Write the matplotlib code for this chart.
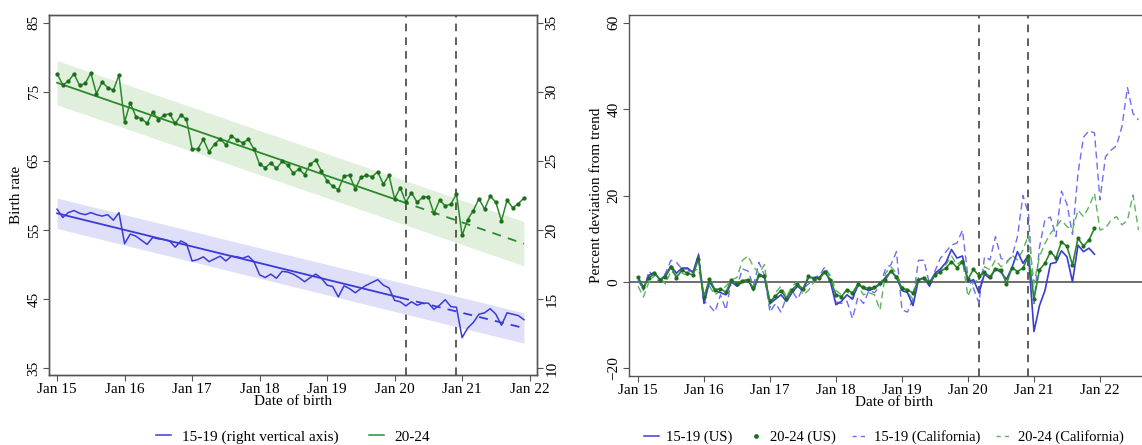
import matplotlib
matplotlib.use("Agg")
import matplotlib.pyplot as plt
import numpy as np

plt.rcParams['font.family'] = ['Liberation Serif', 'DejaVu Serif']
plt.rcParams['font.size'] = 11

# monthly series, Jan 2015 - Dec 2021 (84 months)
start_year = 2015
n_months = 84

# birth rate 20-24 (left axis)
rate_20_24 = [77.6, 76.0, 76.5, 77.6, 75.9, 76.2, 77.7, 74.7, 76.4, 75.6, 75.2, 77.4,
              70.6, 73.4, 71.4, 71.1, 70.4, 72.1, 70.9, 71.6, 71.8, 70.4, 71.6, 71.0,
              66.7, 66.7, 68.1, 66.3, 67.4, 68.2, 67.3, 68.6, 68.0, 67.6, 68.1, 66.7,
              64.5, 64.0, 64.7, 63.9, 64.9, 64.4, 63.2, 63.8, 63.0, 64.5, 65.1, 63.5,
              62.1, 61.3, 60.8, 62.8, 62.9, 60.9, 62.6, 62.9, 62.7, 63.4, 61.6, 62.9,
              59.5, 61.1, 59.0, 60.4, 59.0, 59.7, 59.8, 57.4, 59.3, 58.5, 58.7, 60.2,
              54.2, 56.5, 57.8, 59.5, 58.0, 59.9, 59.0, 56.3, 59.3, 58.2, 58.8, 59.6]

# birth rate 15-19 (right axis)
rate_15_19 = [21.5, 20.9, 21.25, 21.4, 21.2, 21.1, 21.25, 21.1, 21.0, 21.1, 20.7, 21.25,
              19.0, 19.7, 19.55, 19.25, 18.95, 19.45, 19.35, 19.3, 19.2, 18.75, 19.2, 19.0,
              17.75, 17.85, 18.05, 17.7, 17.9, 18.1, 17.75, 18.1, 18.05, 17.95, 18.1, 17.7,
              16.75, 16.55, 16.8, 16.5, 17.0, 16.95, 16.8, 16.55, 16.25, 16.55, 16.8, 16.5,
              16.0, 15.9, 15.15, 15.95, 15.75, 15.45, 15.75, 16.0, 16.2, 16.4, 16.0, 15.8,
              14.9, 14.8, 14.5, 14.8, 14.55, 14.7, 14.7, 14.25, 14.55, 14.95, 14.45, 14.4,
              12.2, 12.9, 13.3, 13.9, 14.0, 14.3, 13.9, 13.1, 14.0, 13.9, 13.8, 13.5]

# linear trends (start, end) and band half widths
trend_20_24 = (76.3, 53.0)
band_20_24 = 3.2
trend_15_19 = (21.2, 12.9)
band_15_19 = 1.1
fit_end_month = 61  # Feb 2020, solid until here

# percent deviation from trend
dev_us_15_19 = [1.0, -1.5, 1.5, 2.2, 0.5, 1.5, 3.7, 2.0, 3.2, 3.2, 2.2, 6.2,
                -5.0, 0.0, -2.0, -2.5, -3.0, 0.0, -1.0, 0.0, 0.5, -2.0, 1.5, 1.0,
                -5.0, -4.0, -3.0, -4.5, -2.5, -1.0, -2.0, 1.0, 1.0, 1.0, 2.5, 0.0,
                -5.3, -4.5, -3.0, -4.0, -0.5, -1.5, -2.0, -1.5, -0.5, 1.0, 2.5, 1.0,
                -2.0, -2.5, -5.5, 0.5, 1.0, -1.0, 2.0, 3.0, 4.5, 7.5, 5.5, 6.0,
                0.0, 0.5, -2.5, 1.8, 0.8, 3.0, 2.2, 0.6, 3.3, 7.0, 4.3, 6.2,
                -11.5, -5.5, -2.0, 4.2, 4.5, 7.2, 5.8, 0.0, 8.5, 7.0, 7.8, 6.4]

dev_us_20_24 = [1.1, -1.2, 0.8, 2.1, 0.4, 1.2, 3.4, 1.0, 2.7, 2.0, 1.6, 5.3,
                -3.5, 0.7, -1.8, -1.6, -2.4, 0.5, -0.5, 0.3, 0.5, -1.5, 1.7, 1.3,
                -4.5, -3.3, -2.0, -3.9, -1.8, -0.6, -1.6, 1.3, 0.7, 0.8, 2.2, 0.5,
                -3.0, -3.4, -1.8, -2.6, -0.5, -1.3, -1.5, -1.3, -0.3, 0.5, 2.5, 1.2,
                -1.5, -1.8, -2.6, 0.5, 0.8, 0.0, 1.6, 2.4, 3.2, 4.7, 3.3, 4.7,
                0.6, 2.9, 1.4, 2.2, 1.2, 3.0, 2.8, -0.4, 3.3, 2.4, 3.2, 6.0,
                -4.0, 2.8, 4.3, 7.0, 5.5, 9.3, 8.2, 3.9, 10.1, 8.3, 9.7, 12.4]

# California runs to Aug 2022 (92 months)
dev_ca_15_19 = [0.5, -2.0, 2.5, 1.0, 0.0, 2.0, 5.0, 4.5, 3.0, 3.0, 1.5, 6.5,
                -4.5, -5.5, -7.0, -3.0, -6.5, 0.5, -1.0, 3.0, 2.5, -1.0, 4.5, 1.5,
                -7.0, -5.0, -7.0, -3.5, -2.0, -4.0, -1.5, -0.5, 1.0, 1.5, 3.5, 1.0,
                -4.6, -5.0, -4.5, -8.5, -3.5, -5.0, -2.0, -2.5, -1.0, 3.0, 4.0, 7.0,
                -6.5, -7.0, -4.0, 5.0, 5.0, -0.5, 2.5, 5.5, 7.0, 8.5, 9.0, 12.0,
                1.0, -1.5, -4.9, 5.8, 5.1, 10.5, 5.5, 4.7, 5.8, 10.5, 20.0, 15.8,
                -5.0, 8.0, 14.5, 15.0, 10.5, 21.0, 18.0, 11.0, 25.0, 33.5, 35.0, 34.5,
                19.0, 29.0, 30.5, 31.5, 36.0, 45.0, 39.0, 37.5]

dev_ca_20_24 = [-1.0, -3.5, 0.0, 1.5, 1.0, -0.5, 2.5, 1.5, 2.0, 1.5, 2.5, 3.0,
                -3.0, -1.0, -3.0, -2.0, -1.0, 0.5, 1.0, 5.0, 6.0, 3.5, 2.0, 4.0,
                -6.0, -2.5, -1.0, -3.5, -1.0, 0.0, -3.0, -2.0, 0.0, 1.0, 3.0, 1.5,
                -2.0, -3.0, -2.0, -4.0, -1.0, -3.0, -2.5, -3.0, -6.5, 2.0, 3.5, 2.0,
                -1.0, -2.5, -4.0, 1.0, 0.5, -0.5, 1.5, 2.5, 4.0, 6.0, 4.0, 5.0,
                -3.4, 0.0, 0.5, 3.5, 2.8, 5.1, 3.5, 4.3, 6.2, 5.1, 7.4, 10.8,
                -0.3, 5.8, 8.9, 11.2, 12.8, 14.3, 12.8, 12.0, 16.6, 15.1, 17.4, 20.5,
                12.0, 12.4, 14.3, 15.1, 13.2, 14.3, 20.1, 12.0]

tick_years = [2015, 2016, 2017, 2018, 2019, 2020, 2021, 2022]
tick_labels = ["Jan 15", "Jan 16", "Jan 17", "Jan 18", "Jan 19", "Jan 20", "Jan 21", "Jan 22"]
vlines = [2020 + 2 / 12, 2020 + 11 / 12]  # Mar 2020, Dec 2020

GREEN = "#2b8a2b"
GREEN_DOT = "#1d6e1d"
BLUE = "#3b3bd6"
GREEN_CA = "#5fb35f"
BLUE_CA = "#6e6ef0"
SPINE = "#555555"

t = start_year + np.arange(n_months) / 12
t_ca = start_year + np.arange(len(dev_ca_15_19)) / 12


def style_axis(ax):
    for s in ax.spines.values():
        s.set_color(SPINE)
        s.set_linewidth(1.0)
    ax.tick_params(direction="out", length=4, width=0.8, color=SPINE, pad=2)
    ax.set_xticks(tick_years)
    ax.set_xticklabels(tick_labels)
    for lab in ax.get_yticklabels():
        lab.set_rotation(90)
        lab.set_va("center")


fig = plt.figure(figsize=(11.42, 4.45), dpi=100)

# ---------------- left panel ----------------
ax1 = fig.add_axes([49 / 1142, 1 - 375 / 445, (537 - 49) / 1142, 360 / 445])
ax2 = ax1.twinx()

g_trend = np.linspace(trend_20_24[0], trend_20_24[1], n_months)
b_trend = np.linspace(trend_15_19[0], trend_15_19[1], n_months)

ax1.fill_between(t, g_trend - band_20_24, g_trend + band_20_24, color="#e1f0dd", lw=0, zorder=1)
ax2.fill_between(t, b_trend - band_15_19, b_trend + band_15_19, color="#dfdff9", lw=0, zorder=1)

for v in vlines:
    ax1.axvline(v, color="#333333", lw=1.1, ls=(0, (5, 4)), zorder=2)

ax1.plot(t[:fit_end_month + 1], g_trend[:fit_end_month + 1], color=GREEN, lw=1.3, zorder=3)
ax1.plot(t[fit_end_month:], g_trend[fit_end_month:], color=GREEN, lw=1.3, ls=(0, (5, 4)), zorder=3)
ax1.plot(t, rate_20_24, color=GREEN, lw=1.1, marker="o", ms=2.1, mfc=GREEN_DOT, mec=GREEN_DOT, zorder=4)

ax2.plot(t[:fit_end_month + 1], b_trend[:fit_end_month + 1], color=BLUE, lw=1.3, zorder=3)
ax2.plot(t[fit_end_month:], b_trend[fit_end_month:], color=BLUE, lw=1.3, ls=(0, (5, 4)), zorder=3)
ax2.plot(t, rate_15_19, color=BLUE, lw=1.1, zorder=4)

ax1.set_xlim(2014.88, 2022.11)
ax1.set_ylim(34.0, 86.1)
ax2.set_ylim(9.5, 35.55)
ax1.set_yticks([35, 45, 55, 65, 75, 85])
ax2.set_yticks([10, 15, 20, 25, 30, 35])
style_axis(ax1)
style_axis(ax2)
ax1.set_ylabel("Birth rate", labelpad=3)
ax1.set_xlabel("Date of birth", labelpad=-1)

h1, = ax1.plot([], [], color=BLUE, lw=1.1)
h2, = ax1.plot([], [], color=GREEN, lw=1.1)
fig.legend([h1, h2], ["15-19 (right vertical axis)", "20-24"], loc="center",
           bbox_to_anchor=(293 / 1142, 1 - 437 / 445), ncol=2, frameon=False,
           handlelength=1.0, columnspacing=2.0, handletextpad=0.7)

# ---------------- right panel ----------------
x0, x1 = 2014.864, 2022.9
ax3 = fig.add_axes([629 / 1142, 1 - 376 / 445, (x1 - x0) * 66 / 1142, 361 / 445])
for v in vlines:
    ax3.axvline(v, color="#333333", lw=1.1, ls=(0, (5, 4)), zorder=2)
ax3.axhline(0, color="#555555", lw=1.2, zorder=2)

ax3.plot(t_ca, dev_ca_15_19, color=BLUE_CA, lw=1.0, ls=(0, (5, 3)), zorder=3)
ax3.plot(t_ca, dev_ca_20_24, color=GREEN_CA, lw=1.0, ls=(0, (5, 3)), zorder=3)
ax3.plot(t, dev_us_15_19, color=BLUE, lw=1.2, zorder=4)
ax3.plot(t, dev_us_20_24, color=GREEN, lw=1.2, marker="o", ms=2.0, mfc=GREEN_DOT, mec=GREEN_DOT, zorder=5)

ax3.set_xlim(x0, x1)
ax3.set_ylim(-21.8, 61.8)
ax3.set_yticks([-20, 0, 20, 40, 60])
style_axis(ax3)
ax3.set_ylabel("Percent deviation from trend", labelpad=3)
ax3.set_xlabel("Date of birth", labelpad=-1)

r1, = ax3.plot([], [], color=BLUE, lw=1.1)
r2, = ax3.plot([], [], color=GREEN_DOT, ls="none", marker="o", ms=2.4)
r3, = ax3.plot([], [], color=BLUE_CA, lw=1.0, ls=(0, (3, 3)))
r4, = ax3.plot([], [], color=GREEN_CA, lw=1.0, ls=(0, (3, 3)))
fig.legend([r1, r2, r3, r4], ["15-19 (US)", "20-24 (US)", "15-19 (California)", "20-24 (California)"],
           loc="center", bbox_to_anchor=(884 / 1142, 1 - 437 / 445), ncol=4, frameon=False,
           fontsize=10.5, handlelength=1.0, columnspacing=1.1, handletextpad=0.5)

fig.savefig("out.png", dpi=100)
